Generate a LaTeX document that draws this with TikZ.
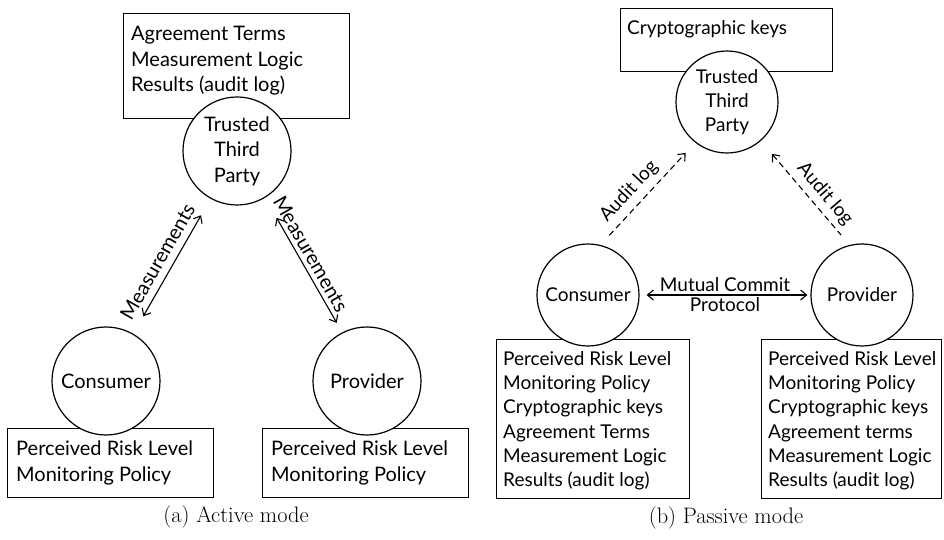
\documentclass[tikz,border=0pt]{standalone}
\usepackage{fontspec}
\newfontfamily\diagfont{Lato}
\usetikzlibrary{arrows.meta}
\begin{document}
\begin{tikzpicture}[x=1bp,y=-1bp,
  fa/.style={font=\diagfont\fontsize{20bp}{25.5bp}\selectfont},
  fb/.style={font=\diagfont\fontsize{19bp}{24.3bp}\selectfont},
  capf/.style={font=\fontsize{22.4bp}{26bp}\selectfont, inner sep=0pt},
  party/.style={circle, draw, fill=white, line width=1.2bp, inner sep=0pt, align=center},
  frame/.style={draw, line width=1.2bp, inner sep=0pt, anchor=north west},
  lines/.style={anchor=north west, inner sep=0pt, align=left},
  both/.style={line width=1.1bp, {Straight Barb[length=6bp,width=10bp]}-{Straight Barb[length=6bp,width=10bp]}},
  one/.style={line width=1.1bp, dash pattern=on 6bp off 4bp, -{Straight Barb[length=6bp,width=10bp]}},
  eno/.style={line width=1.1bp, dash pattern=on 6bp off 4bp, {Straight Barb[length=6bp,width=10bp]}-},
]
\useasboundingbox (0,0) rectangle (944,540);

% ---------- (a) Active mode ----------
\node[frame, minimum width=226bp, minimum height=105bp] (topa) at (123,13) {};
\node[lines, fa] (topatext) at (131,26) {Agreement Terms\\Measurement Logic\\Results (audit log)};
\node[party, fa, minimum size=108bp] (ttpa) at (237,151) {Trusted\\Third\\Party};

\node[frame, minimum width=206bp, minimum height=69bp] (consboxa) at (7,428) {};
\node[lines, fa] (consatext) at (16,441) {Perceived Risk Level\\Monitoring Policy};
\node[party, fa, minimum size=108bp] (consa) at (106,381) {Consumer};

\node[frame, minimum width=206bp, minimum height=69bp] (provboxa) at (262,428) {};
\node[lines, fa] (provatext) at (271,441) {Perceived Risk Level\\Monitoring Policy};
\node[party, fa, minimum size=108bp] (prova) at (367,381) {Provider};

\draw[both, shorten <=20bp, shorten >=19bp] (consa.60) -- (ttpa.241)
  node[pos=0.48, sloped, above=7bp, fa, inner sep=0pt] (meas1) {Measurements};
\draw[both, shorten <=23bp, shorten >=11bp] (ttpa.301) -- (prova.117)
  node[pos=0.46, sloped, above=4bp, fa, inner sep=0pt] (meas2) {Measurements};

\node[capf] (capa) at (236,517) {(a) Active mode};

% ---------- (b) Passive mode ----------
\node[frame, minimum width=212bp, minimum height=63bp] (topb) at (620,8) {};
\node[lines, fb] (topbtext) at (627,20) {Cryptographic keys};
\node[party, fb, minimum size=102bp] (ttpb) at (727,102) {Trusted\\Third\\Party};

\node[frame, minimum width=193bp, minimum height=159bp] (consboxb) at (496,339) {};
\node[lines, fb] (consbtext) at (503,351) {Perceived Risk Level\\Monitoring Policy\\Cryptographic keys\\Agreement Terms\\Measurement Logic\\Results (audit log)};
\node[party, fb, minimum size=102bp] (consb) at (588,295) {Consumer};

\node[frame, minimum width=180bp, minimum height=159bp] (provboxb) at (761,339) {};
\node[lines, fb] (provbtext) at (768,351) {Perceived Risk Level\\Monitoring Policy\\Cryptographic keys\\Agreement terms\\Measurement Logic\\Results (audit log)};
\node[party, fb, minimum size=102bp] (provb) at (862,295) {Provider};

\draw[both, shorten <=7bp, shorten >=3bp] (consb.east) -- (provb.west)
  node[midway, above=2.5bp, fb, inner sep=0pt] (mc1) {Mutual Commit}
  node[midway, below=2bp, fb, inner sep=0pt] (mc2) {Protocol};

\draw[one, shorten <=13bp, shorten >=14bp] (consb.76) -- (ttpb.232)
  node[pos=0.42, sloped, above=6bp, fb, inner sep=0pt] (al1) {Audit log};
\draw[eno, shorten <=17bp, shorten >=13bp] (ttpb.311) -- (provb.104)
  node[pos=0.6, sloped, above=5bp, fb, inner sep=0pt] (al2) {Audit log};

\node[capf] (capb) at (726,518) {(b) Passive mode};
\end{tikzpicture}
\end{document}
